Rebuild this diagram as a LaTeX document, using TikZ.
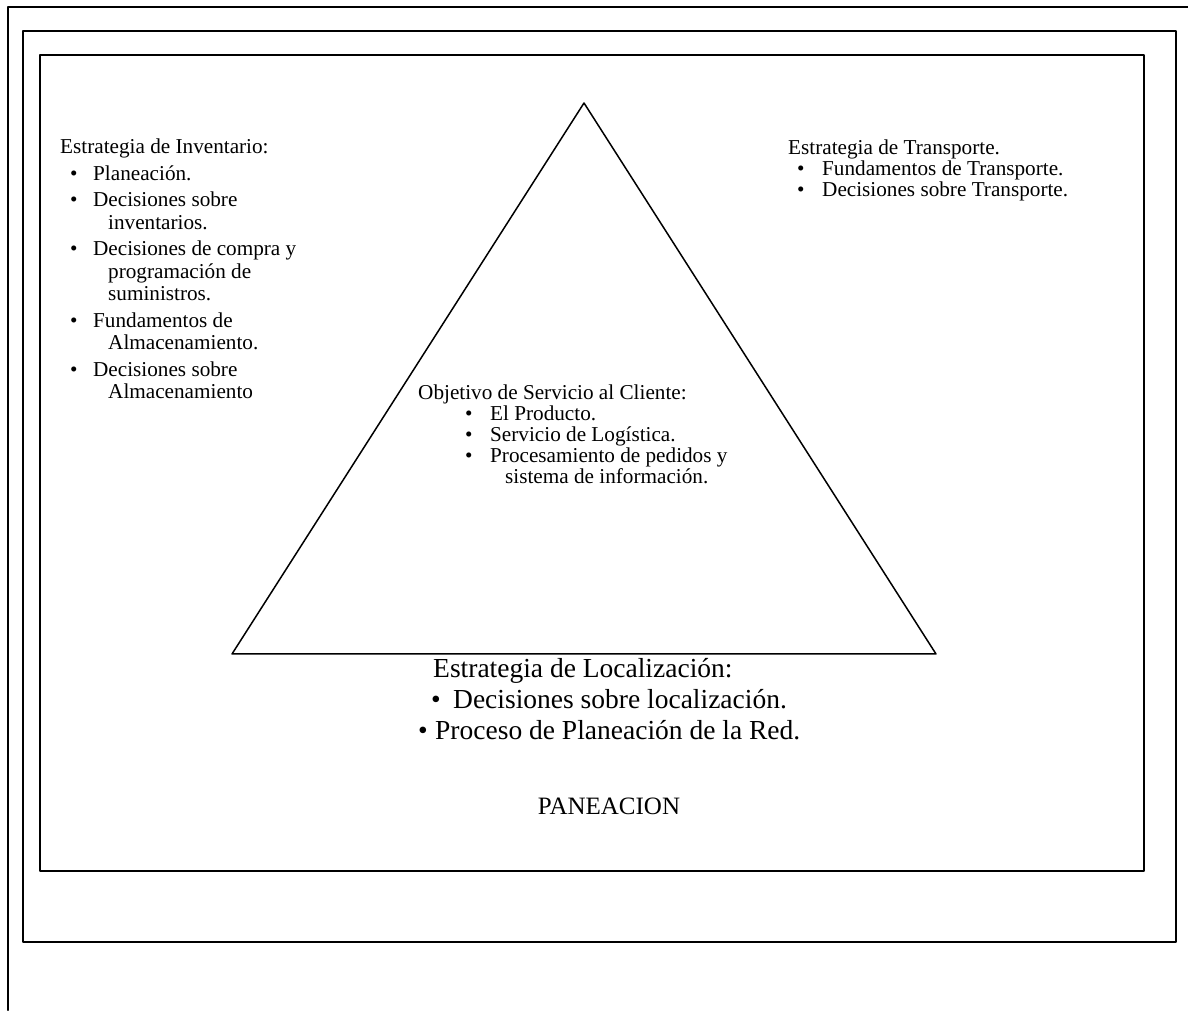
\documentclass[tikz,border=0pt]{standalone}
\usepackage{fontspec}
\setmainfont{Liberation Serif}
\usepackage{tikz}
\newcommand{\blt}[1]{\makebox[#1][l]{\textbullet}}

\begin{document}
\begin{tikzpicture}[line cap=round,line join=round,x=1pt,y=1pt,
  txt/.style={anchor=base west,align=left,inner sep=0pt,font=\fontsize{21.2}{21.2}\selectfont},
  bigtxt/.style={anchor=base west,align=left,inner sep=0pt,font=\fontsize{27.5}{31}\selectfont}]
\useasboundingbox (0,0) rectangle (1188,1010);
% frames
\draw [line width=2.2pt] (8,0) -- (8,1003) -- (1188,1003);
\draw [line width=2.2pt] (23,68) rectangle (1176,979);
\draw [line width=2.2pt] (40,139) rectangle (1144,955);
% triangle
\coordinate (apex) at (584,907);
\coordinate (bl) at (232,356);
\coordinate (br) at (936,356);
\draw [line width=1.5pt] (apex) -- (bl) -- (br) -- cycle;
% texts (base = last line)
\node[txt,font=\fontsize{21.2}{22.5}\selectfont] (inv) at (60,611) {Estrategia de Inventario:\\[4pt]
\hspace*{10pt}\blt{23pt}Planeación.\\[4pt]
\hspace*{10pt}\blt{23pt}Decisiones sobre\\
\hspace*{48pt}inventarios.\\[4pt]
\hspace*{10pt}\blt{23pt}Decisiones de compra y\\
\hspace*{48pt}programación de\\
\hspace*{48pt}suministros.\\[4pt]
\hspace*{10pt}\blt{23pt}Fundamentos de\\
\hspace*{48pt}Almacenamiento.\\[4pt]
\hspace*{10pt}\blt{23pt}Decisiones sobre\\
\hspace*{48pt}Almacenamiento};
\node[txt] (trans) at (788,813) {Estrategia de Transporte.\\
\hspace*{9pt}\blt{25pt}Fundamentos de Transporte.\\
\hspace*{9pt}\blt{25pt}Decisiones sobre Transporte.};
\node[txt] (serv) at (418,526) {Objetivo de Servicio al Cliente:\\
\hspace*{47pt}\blt{25pt}El Producto.\\
\hspace*{47pt}\blt{25pt}Servicio de Logística.\\
\hspace*{47pt}\blt{25pt}Procesamiento de pedidos y\\
\hspace*{87pt}sistema de información.};
\node[bigtxt] (loc) at (418,271) {\hspace*{15pt}Estrategia de Localización:\\
\hspace*{13pt}\blt{22pt}Decisiones sobre localización.\\
\blt{17pt}Proceso de Planeación de la Red.};
\node[font=\fontsize{25}{30}\selectfont,anchor=base,inner sep=0pt] (plan) at (609,196) {PANEACION};
\end{tikzpicture}
\end{document}
